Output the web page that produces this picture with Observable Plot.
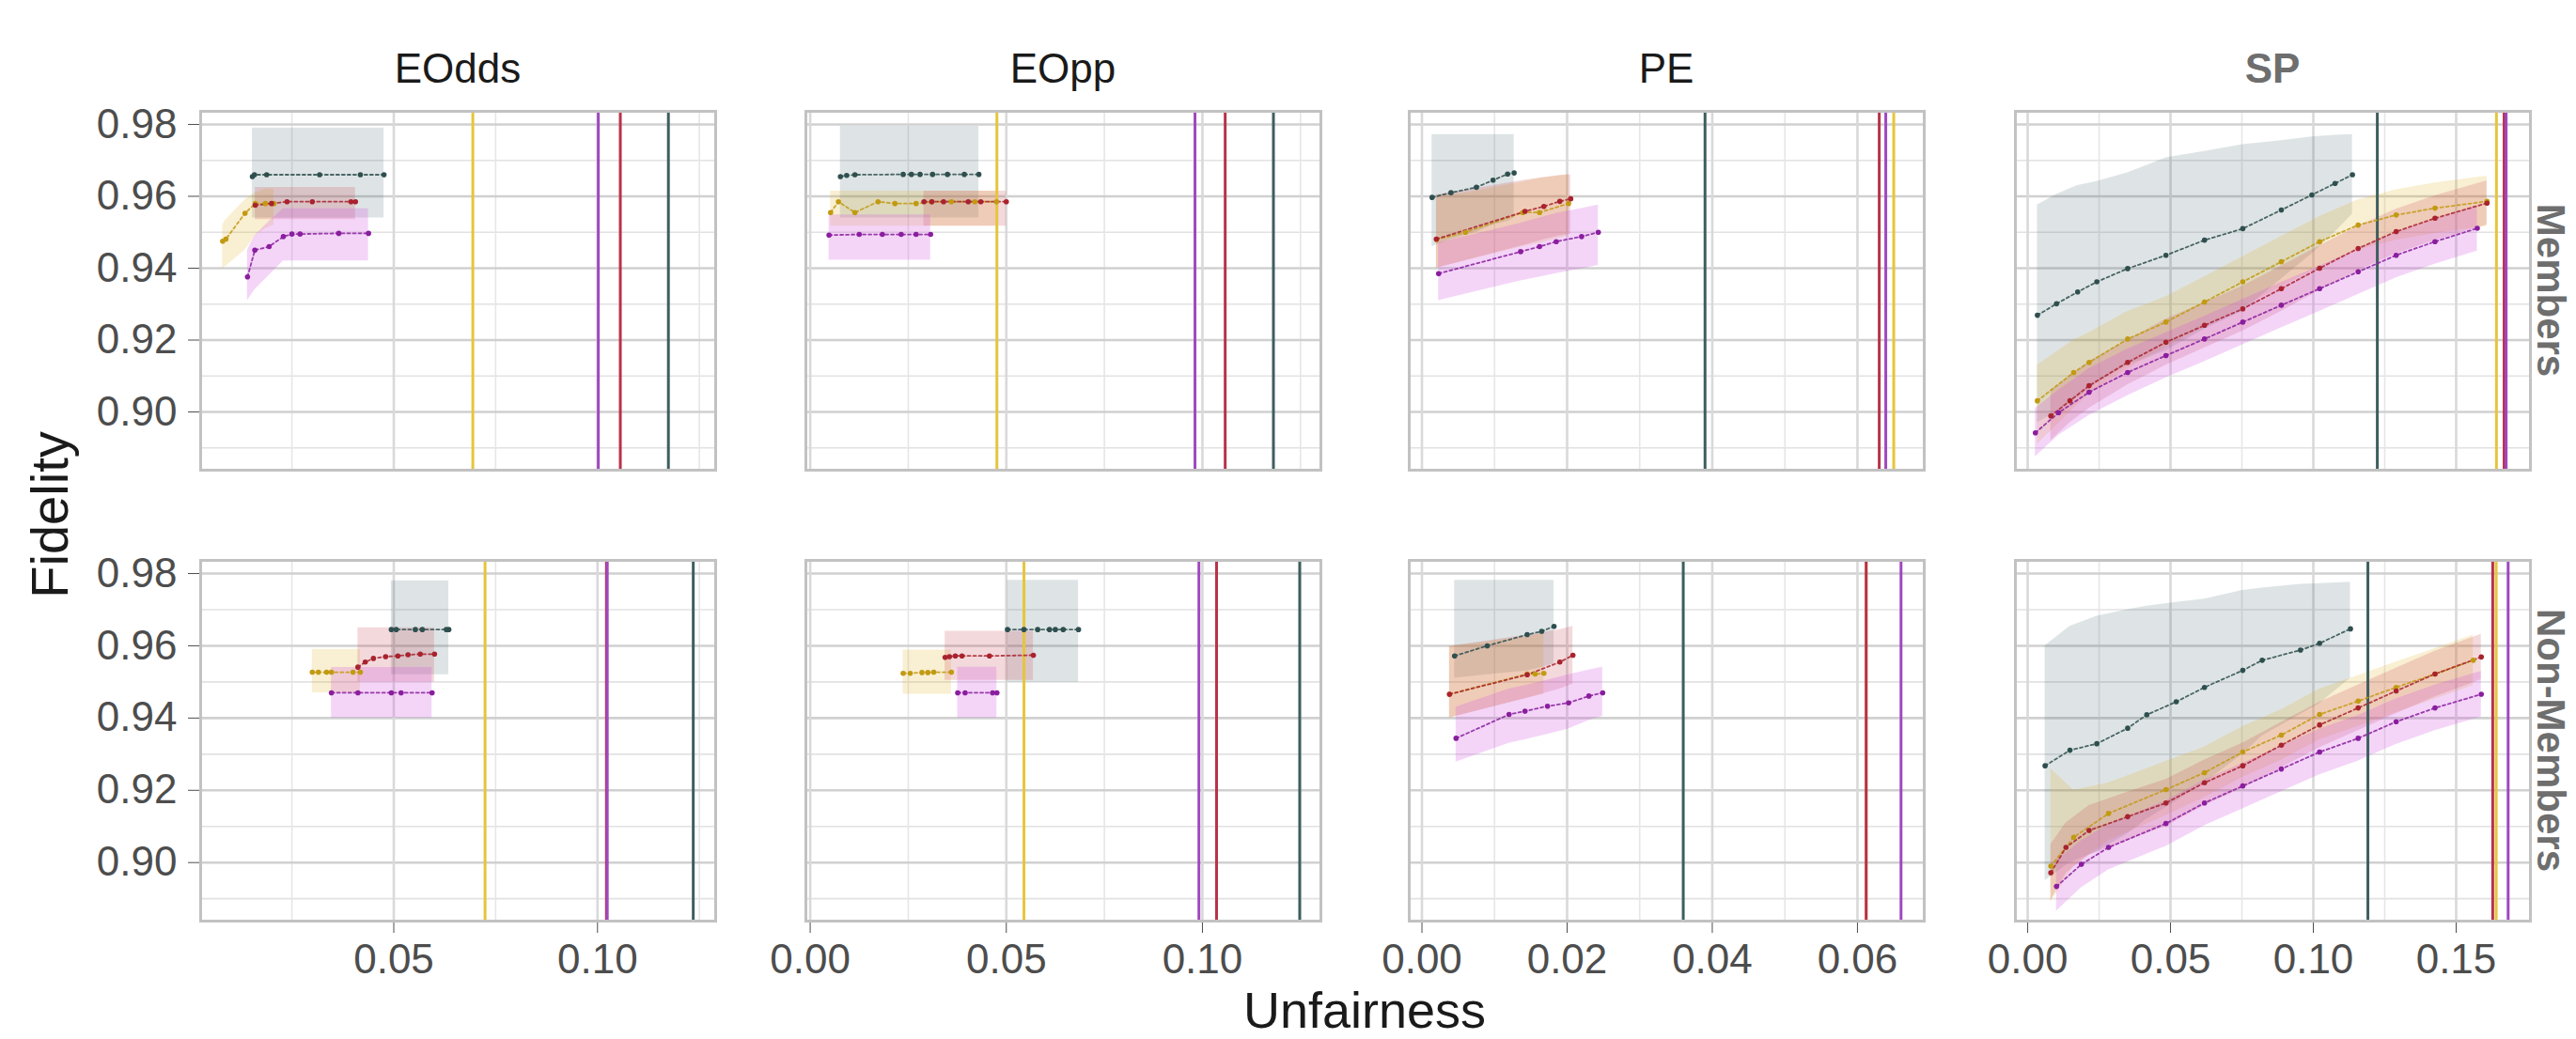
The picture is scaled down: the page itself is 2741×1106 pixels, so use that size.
<!DOCTYPE html>
<html><head><meta charset="utf-8">
<script src="https://cdn.jsdelivr.net/npm/d3@7"></script>
<script src="https://cdn.jsdelivr.net/npm/@observablehq/plot@0.6"></script>
<style>
html,body{margin:0;padding:0;background:#fff;}
#chart{position:relative;width:2741px;height:1106px;overflow:hidden;font-family:"Liberation Sans",Arial,Helvetica,sans-serif;background:#fff;}
#chart .panel{position:absolute;}
#chart svg{max-width:none;}
#overlay{position:absolute;left:0;top:0;pointer-events:none;}
</style></head><body><div id="chart"></div>
<script>
// ---------------- DATA ----------------
const metrics = ["EOdds", "EOpp", "PE", "SP"];
const groups = ["Members", "Non-Members"];
const methods = ["teal", "gold", "red", "purple"];
const xLabel = "Unfairness";
const yLabel = "Fidelity";

// tick values
const yMajor = [0.90, 0.92, 0.94, 0.96, 0.98];
const yMinor = [0.89, 0.91, 0.93, 0.95, 0.97];
const xMajor = [[0.05, 0.10], [0.00, 0.05, 0.10], [0.00, 0.02, 0.04, 0.06], [0.00, 0.05, 0.10, 0.15]];
const xMinor = [[0.025, 0.075, 0.125], [0.025, 0.075, 0.125], [0.01, 0.03, 0.05], [0.025, 0.075, 0.125]];
const xDomains = [[0.0026, 0.129], [-0.0011, 0.1302], [-0.00175, 0.0692], [-0.0043, 0.176]];
const yDomain = [0.8838, 0.98365];

// series rows: [unfairness, fidelity, lower, upper]
const eoddsMemTeal = [[0.0153,0.9655,0.954,0.979],[0.0158,0.966,0.954,0.979],[0.0188,0.966,0.954,0.979],[0.0318,0.966,0.954,0.979],[0.0418,0.966,0.954,0.979],[0.0476,0.966,0.954,0.979]];
const eoddsMemGold = [[0.0080,0.9475,0.940,0.952],[0.0088,0.9481,0.9405,0.9535],[0.0135,0.9553,0.945,0.959],[0.016,0.958,0.949,0.961],[0.0185,0.958,0.951,0.962],[0.0206,0.958,0.952,0.962]];
const eoddsMemRed = [[0.0160,0.9575,0.9535,0.9625],[0.0200,0.958,0.9535,0.9625],[0.0238,0.9585,0.9535,0.9625],[0.0300,0.9585,0.9535,0.9625],[0.0395,0.9585,0.9535,0.9625],[0.0406,0.9585,0.9535,0.9625]];
const eoddsMemPurple = [[0.0141,0.9376,0.931,0.945],[0.0159,0.945,0.934,0.949],[0.0194,0.946,0.938,0.953],[0.0229,0.9488,0.942,0.9565],[0.025,0.9495,0.942,0.9565],[0.027,0.9495,0.942,0.9565],[0.0365,0.9497,0.942,0.9565],[0.0438,0.9497,0.942,0.9565]];

const eoddsNonTeal = [[0.0494,0.9645,0.952,0.978],[0.0506,0.9645,0.952,0.978],[0.0553,0.9645,0.952,0.978],[0.057,0.9645,0.952,0.978],[0.0629,0.9645,0.952,0.978],[0.0635,0.9645,0.952,0.978]];
const eoddsNonGold = [[0.030,0.9527,0.947,0.959],[0.0315,0.9527,0.947,0.959],[0.0335,0.9527,0.947,0.959],[0.0347,0.9527,0.947,0.959],[0.040,0.9527,0.947,0.959],[0.0418,0.9527,0.947,0.959]];
const eoddsNonRed = [[0.0412,0.9541,0.950,0.965],[0.043,0.9555,0.950,0.965],[0.045,0.9565,0.950,0.965],[0.048,0.957,0.950,0.965],[0.051,0.9572,0.950,0.965],[0.0535,0.9575,0.950,0.965],[0.0565,0.9577,0.950,0.965],[0.060,0.9577,0.950,0.965]];
const eoddsNonPurple = [[0.0347,0.947,0.940,0.954],[0.0412,0.947,0.940,0.954],[0.0494,0.947,0.940,0.954],[0.0518,0.947,0.940,0.954],[0.0594,0.947,0.940,0.954]];

const eoppMemTeal = [[0.0077,0.9655,0.954,0.9795],[0.0093,0.9658,0.954,0.9795],[0.0114,0.966,0.954,0.9795],[0.0237,0.9661,0.954,0.9795],[0.0258,0.9661,0.954,0.9795],[0.028,0.9661,0.954,0.9795],[0.0312,0.9661,0.954,0.9795],[0.035,0.9661,0.954,0.9795],[0.0393,0.9661,0.954,0.9795],[0.043,0.9661,0.954,0.9795]];
const eoppMemGold = [[0.0052,0.9555,0.9517,0.9614],[0.0072,0.9585,0.9517,0.9614],[0.0114,0.9555,0.9517,0.9614],[0.0173,0.9585,0.9517,0.9614],[0.0216,0.958,0.9517,0.9614],[0.027,0.958,0.9517,0.9614],[0.031,0.9585,0.9517,0.9614],[0.036,0.9585,0.9517,0.9614],[0.042,0.9585,0.9517,0.9614],[0.0475,0.9585,0.9517,0.9614]];
const eoppMemRed = [[0.029,0.9585,0.9517,0.9614],[0.031,0.9585,0.9517,0.9614],[0.034,0.9585,0.9517,0.9614],[0.0403,0.9585,0.9517,0.9614],[0.0435,0.9585,0.9517,0.9614],[0.050,0.9585,0.9517,0.9614]];
const eoppMemPurple = [[0.0048,0.9492,0.9422,0.9548],[0.0125,0.9494,0.9422,0.9548],[0.0184,0.9494,0.9422,0.9548],[0.0232,0.9494,0.9422,0.9548],[0.027,0.9494,0.9422,0.9548],[0.0307,0.9494,0.9422,0.9548]];

const eoppNonTeal = [[0.0503,0.9645,0.9499,0.9781],[0.0545,0.9645,0.9499,0.9781],[0.058,0.9645,0.9499,0.9781],[0.061,0.9645,0.9499,0.9781],[0.0625,0.9645,0.9499,0.9781],[0.0645,0.9645,0.9499,0.9781],[0.0684,0.9645,0.9499,0.9781]];
const eoppNonGold = [[0.0237,0.9524,0.9466,0.9588],[0.0255,0.9524,0.9466,0.9588],[0.0285,0.9526,0.9466,0.9588],[0.030,0.9526,0.9466,0.9588],[0.0315,0.9527,0.9466,0.9588],[0.036,0.9527,0.9466,0.9588]];
const eoppNonRed = [[0.0344,0.9568,0.9504,0.964],[0.0355,0.957,0.9504,0.964],[0.037,0.9572,0.9504,0.964],[0.0387,0.9572,0.9504,0.964],[0.0457,0.9572,0.9504,0.964],[0.0569,0.9574,0.9504,0.964]];
const eoppNonPurple = [[0.0376,0.947,0.940,0.9541],[0.0395,0.947,0.940,0.9541],[0.0465,0.947,0.940,0.9541],[0.0476,0.947,0.940,0.9541]];

const peMemTeal = [[0.0014,0.9597,0.946,0.9772],[0.004,0.961,0.948,0.9772],[0.0075,0.9625,0.950,0.9772],[0.0098,0.9645,0.952,0.9772],[0.0118,0.9662,0.953,0.9772],[0.0127,0.9665,0.954,0.9772]];
const peMemGold = [[0.002,0.948,0.940,0.960],[0.006,0.950,0.942,0.961],[0.0139,0.9555,0.946,0.964],[0.0162,0.9555,0.947,0.965],[0.0202,0.958,0.949,0.966]];
const peMemRed = [[0.002,0.9481,0.940,0.9604],[0.0142,0.9558,0.9465,0.9645],[0.0168,0.9572,0.948,0.9652],[0.019,0.9586,0.949,0.9658],[0.0205,0.9593,0.9495,0.966]];
const peMemPurple = [[0.0023,0.9385,0.931,0.947],[0.0136,0.9446,0.9365,0.9525],[0.0162,0.946,0.9375,0.954],[0.0185,0.9474,0.9385,0.9552],[0.022,0.9488,0.9398,0.9566],[0.0243,0.950,0.9408,0.9576]];

const peNonTeal = [[0.0045,0.9572,0.951,0.9781],[0.009,0.960,0.952,0.9781],[0.0145,0.9631,0.953,0.9781],[0.0165,0.964,0.954,0.9781],[0.0182,0.9654,0.955,0.9781]];
const peNonGold = [[0.0038,0.9466,0.940,0.9598],[0.0145,0.9522,0.9455,0.9625],[0.0156,0.9522,0.946,0.963],[0.0168,0.9524,0.9465,0.9635]];
const peNonRed = [[0.0038,0.9466,0.940,0.9598],[0.0145,0.952,0.9455,0.963],[0.019,0.9555,0.948,0.9645],[0.0208,0.9574,0.9494,0.9654]];
const peNonPurple = [[0.0047,0.9344,0.9278,0.943],[0.012,0.941,0.933,0.948],[0.0142,0.9419,0.934,0.949],[0.0173,0.9433,0.9355,0.9505],[0.0202,0.9442,0.937,0.952],[0.023,0.9461,0.9393,0.9533],[0.0249,0.947,0.9405,0.9541]];

const spMemTeal = [[0.0034,0.9269,0.897,0.9576],[0.0101,0.9301,0.900,0.9605],[0.0175,0.9334,0.904,0.963],[0.0242,0.9362,0.908,0.9641],[0.035,0.9399,0.913,0.9665],[0.0484,0.9436,0.917,0.9707],[0.0619,0.9478,0.923,0.9725],[0.0753,0.951,0.928,0.9744],[0.0888,0.9562,0.937,0.9755],[0.0995,0.9604,0.944,0.9765],[0.1076,0.9636,0.950,0.977],[0.1137,0.966,0.955,0.9772]];
const spMemGold = [[0.0034,0.9031,0.891,0.913],[0.0161,0.911,0.901,0.920],[0.0215,0.9138,0.905,0.922],[0.035,0.9203,0.912,0.928],[0.0484,0.925,0.918,0.932],[0.0619,0.9306,0.9236,0.9376],[0.0753,0.9362,0.9292,0.9432],[0.0888,0.9418,0.9348,0.9488],[0.1022,0.9474,0.9404,0.9544],[0.1157,0.952,0.945,0.959],[0.129,0.9548,0.9478,0.9618],[0.1426,0.9567,0.9497,0.9637],[0.1608,0.9586,0.9516,0.9656]];
const spMemRed = [[0.0081,0.8989,0.892,0.906],[0.0148,0.9031,0.897,0.910],[0.0215,0.9073,0.901,0.914],[0.035,0.9138,0.9075,0.920],[0.0484,0.9194,0.913,0.9258],[0.0619,0.9241,0.9178,0.9304],[0.0753,0.9287,0.9225,0.935],[0.0888,0.9343,0.928,0.9406],[0.1022,0.940,0.9338,0.9462],[0.1157,0.9455,0.9393,0.9517],[0.129,0.9502,0.944,0.9564],[0.1426,0.9539,0.9477,0.9601],[0.1608,0.9581,0.952,0.9643]];
const spMemPurple = [[0.0027,0.8942,0.8875,0.901],[0.0108,0.8998,0.8935,0.906],[0.0215,0.9055,0.899,0.912],[0.035,0.911,0.9045,0.9175],[0.0484,0.9157,0.9095,0.922],[0.0619,0.9203,0.914,0.9266],[0.0753,0.925,0.9187,0.9313],[0.0888,0.9297,0.9234,0.936],[0.1022,0.9343,0.928,0.9406],[0.1157,0.939,0.9327,0.9453],[0.129,0.9436,0.9373,0.9499],[0.1426,0.9474,0.9411,0.9537],[0.1574,0.9511,0.9448,0.9574]];

const spNonTeal = [[0.0061,0.9268,0.895,0.960],[0.0148,0.9311,0.900,0.9654],[0.0242,0.9329,0.903,0.9682],[0.035,0.9372,0.908,0.970],[0.0417,0.9409,0.912,0.971],[0.052,0.9445,0.917,0.972],[0.0619,0.9485,0.922,0.9729],[0.0753,0.9532,0.930,0.9753],[0.0821,0.956,0.935,0.976],[0.0955,0.9588,0.941,0.977],[0.1022,0.9607,0.944,0.9772],[0.113,0.9647,0.951,0.9776]];
const spNonGold = [[0.0081,0.899,0.889,0.926],[0.0161,0.907,0.899,0.920],[0.0283,0.9136,0.906,0.922],[0.0484,0.9202,0.913,0.928],[0.0619,0.9249,0.918,0.932],[0.0753,0.9306,0.9236,0.9376],[0.0888,0.9353,0.9283,0.9423],[0.1022,0.941,0.934,0.948],[0.1157,0.9447,0.9377,0.9517],[0.129,0.9485,0.9415,0.9555],[0.1426,0.9522,0.9452,0.9592],[0.156,0.956,0.949,0.963]];
const spNonRed = [[0.0081,0.8972,0.8895,0.905],[0.0134,0.9042,0.897,0.911],[0.0215,0.9089,0.902,0.9158],[0.035,0.9127,0.906,0.9195],[0.0484,0.9165,0.910,0.923],[0.0619,0.9221,0.9158,0.9284],[0.0753,0.9268,0.9205,0.9331],[0.0888,0.9325,0.9262,0.9388],[0.1022,0.9381,0.9318,0.9444],[0.1157,0.9428,0.9365,0.9491],[0.129,0.9475,0.9412,0.9538],[0.1426,0.9522,0.9459,0.9585],[0.1588,0.9569,0.9506,0.9632]];
const spNonPurple = [[0.0101,0.8934,0.8865,0.9005],[0.0188,0.8995,0.893,0.906],[0.0283,0.9042,0.898,0.9105],[0.0484,0.9108,0.9045,0.9171],[0.0619,0.9165,0.9102,0.9228],[0.0753,0.9212,0.9149,0.9275],[0.0888,0.9259,0.9196,0.9322],[0.1022,0.9306,0.9243,0.9369],[0.1157,0.9344,0.9281,0.9407],[0.129,0.939,0.9327,0.9453],[0.1426,0.9428,0.9365,0.9491],[0.1588,0.9466,0.9403,0.9529]];

// reference (vertical) lines, order: teal, gold, red, purple
const vEOddsMem = [0.1174, 0.0694, 0.1056, 0.1002];
const vEOddsNon = [0.1235, 0.0724, 0.1022, 0.1024];
const vEOppMem = [0.1181, 0.0476, 0.1058, 0.0981];
const vEOppNon = [0.1248, 0.0545, 0.1036, 0.0991];
const vPEMem = [0.0390, 0.0650, 0.0630, 0.0639];
const vPENon = [0.0360, 0.0612, 0.0612, 0.0660];
const vSPMem = [0.1224, 0.1641, 0.1668, 0.1675];
const vSPNon = [0.1191, 0.1640, 0.1628, 0.1682];

const panelSeries = {
  "EOdds|Members": [eoddsMemTeal, eoddsMemGold, eoddsMemRed, eoddsMemPurple],
  "EOdds|Non-Members": [eoddsNonTeal, eoddsNonGold, eoddsNonRed, eoddsNonPurple],
  "EOpp|Members": [eoppMemTeal, eoppMemGold, eoppMemRed, eoppMemPurple],
  "EOpp|Non-Members": [eoppNonTeal, eoppNonGold, eoppNonRed, eoppNonPurple],
  "PE|Members": [peMemTeal, peMemGold, peMemRed, peMemPurple],
  "PE|Non-Members": [peNonTeal, peNonGold, peNonRed, peNonPurple],
  "SP|Members": [spMemTeal, spMemGold, spMemRed, spMemPurple],
  "SP|Non-Members": [spNonTeal, spNonGold, spNonRed, spNonPurple]
};
const panelVlines = {
  "EOdds|Members": vEOddsMem, "EOdds|Non-Members": vEOddsNon,
  "EOpp|Members": vEOppMem, "EOpp|Non-Members": vEOppNon,
  "PE|Members": vPEMem, "PE|Non-Members": vPENon,
  "SP|Members": vSPMem, "SP|Non-Members": vSPNon
};

// ---------------- STYLE ----------------
const pointColors = ["#2F4F4F", "#C29A12", "#A8232E", "#8A1E9E"];
const fillColors = ["#3B5F66", "#E0B020", "#C8404E", "#D050E0"];
const fillOps = [0.17, 0.2, 0.2, 0.24];
const vlineColors = ["#3E5E5E", "#E6C53A", "#B8324A", "#A048C0"];

const colLeft = [213, 857, 1499, 2144];
const panelW = 548;
const rowTop = [118, 596];
const panelH = [382, 384];
const FONT = '"Liberation Sans", Arial, Helvetica, sans-serif';

const chart = document.getElementById("chart");

function makePanel(col, row) {
  const key = metrics[col] + "|" + groups[row];
  const series = panelSeries[key];
  const vl = panelVlines[key];
  const isLeft = col === 0, isBottom = row === 1;
  const mL = isLeft ? 213 : 6, mR = 6, mT = 6, mB = isBottom ? 72 : 6;
  const fx = d => d[0], fy = d => d[1];
  const marks = [
    Plot.ruleY(yMinor, {stroke: "#e2e2e2", strokeWidth: 1.6}),
    Plot.ruleX(xMinor[col], {stroke: "#e6e6e6", strokeWidth: 1.6}),
    Plot.ruleY(yMajor, {stroke: "#d0d0d0", strokeWidth: 2.6}),
    Plot.ruleX(xMajor[col], {stroke: "#d9d9d9", strokeWidth: 2.6})
  ];
  series.forEach((s, i) => marks.push(Plot.areaY(s, {x: fx, y1: d => d[2], y2: d => d[3], fill: fillColors[i], fillOpacity: fillOps[i]})));
  vl.forEach((v, i) => marks.push(Plot.ruleX([v], {stroke: vlineColors[i], strokeWidth: 3})));
  series.forEach((s, i) => marks.push(Plot.line(s, {x: fx, y: fy, stroke: pointColors[i], strokeWidth: 1.8, strokeDasharray: "3,3", strokeOpacity: 0.85})));
  series.forEach((s, i) => marks.push(Plot.dot(s, {x: fx, y: fy, fill: pointColors[i], r: 2.8})));
  marks.push(Plot.frame({stroke: "#c2c2c2", strokeWidth: 3}));

  const svg = Plot.plot({
    width: panelW + mL + mR,
    height: panelH[row] + mT + mB,
    marginLeft: mL, marginRight: mR, marginTop: mT, marginBottom: mB,
    style: {fontFamily: FONT, fontSize: "44px", color: "#4d4d4d", background: "transparent", overflow: "visible", maxWidth: "none"},
    x: {domain: xDomains[col], ticks: xMajor[col], tickFormat: d3.format(".2f"), tickSize: 13, tickPadding: 11, label: null, axis: isBottom ? "bottom" : null},
    y: {domain: yDomain, ticks: yMajor, tickFormat: d3.format(".2f"), tickSize: 13, tickPadding: 12, label: null, axis: isLeft ? "left" : null},
    marks
  });
  const div = document.createElement("div");
  div.className = "panel";
  div.style.left = (colLeft[col] - mL) + "px";
  div.style.top = (rowTop[row] - mT) + "px";
  div.style.width = (panelW + mL + mR) + "px";
  div.appendChild(svg);
  chart.appendChild(div);
}

for (let r = 0; r < 2; r++) for (let c = 0; c < 4; c++) makePanel(c, r);

// ---------------- TEXT OVERLAY ----------------
const ov = d3.select(chart).append("svg").attr("id", "overlay")
  .attr("width", 2741).attr("height", 1106)
  .style("font-family", FONT);

metrics.forEach((m, i) => {
  const faded = m === "SP";
  ov.append("text")
    .attr("x", colLeft[i] + panelW / 2).attr("y", 88)
    .attr("text-anchor", "middle").attr("font-size", 44)
    .attr("font-weight", faded ? "bold" : "normal")
    .attr("fill", faded ? "#6e6e6e" : "#1a1a1a")
    .text(m);
});
groups.forEach((g, r) => {
  const cy = rowTop[r] + panelH[r] / 2;
  ov.append("text")
    .attr("transform", `translate(2700,${cy}) rotate(90)`)
    .attr("text-anchor", "middle").attr("font-size", 42)
    .attr("font-weight", "bold").attr("fill", "#6e6e6e")
    .text(g);
});
ov.append("text")
  .attr("transform", "translate(72,548) rotate(-90)")
  .attr("text-anchor", "middle").attr("font-size", 56).attr("fill", "#1a1a1a")
  .text(yLabel);
ov.append("text")
  .attr("x", 1452).attr("y", 1094)
  .attr("text-anchor", "middle").attr("font-size", 54).attr("fill", "#1a1a1a")
  .text(xLabel);
</script></body></html>
